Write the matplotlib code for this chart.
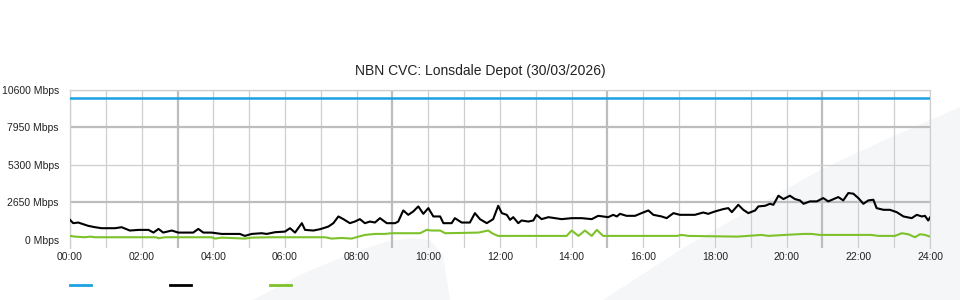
import matplotlib
matplotlib.use('Agg')
import matplotlib.pyplot as plt
from matplotlib.lines import Line2D
from matplotlib.patches import Polygon

plt.rcParams['font.family'] = ['Liberation Sans', 'DejaVu Sans']

title = 'NBN CVC: Lonsdale Depot (30/03/2026)'

# capacity line (Mbps)
cap_hours = [0, 24]
cap_vals = [10000, 10000]

# total traffic (black)
tot_hours = [0.00, 0.09, 0.23, 0.37, 0.51, 0.70, 0.88, 1.07, 1.26, 1.44, 1.67, 1.91,
             2.19, 2.33, 2.47, 2.60, 2.84, 3.02, 3.21, 3.44, 3.58, 3.72, 3.95, 4.23,
             4.51, 4.74, 4.88, 5.07, 5.35, 5.49, 5.72, 6.00, 6.14, 6.28, 6.47, 6.56,
             6.79, 6.98, 7.21, 7.35, 7.49, 7.63, 7.81, 7.95, 8.09, 8.23, 8.37, 8.51,
             8.65, 8.84, 9.07, 9.16, 9.30, 9.44, 9.58, 9.72, 9.86, 10.00, 10.14, 10.33,
             10.42, 10.65, 10.74, 10.93, 11.16, 11.30, 11.44, 11.63, 11.81, 11.95,
             12.05, 12.19, 12.28, 12.37, 12.51, 12.60, 12.79, 12.93, 13.02, 13.16,
             13.35, 13.53, 13.72, 14.00, 14.28, 14.56, 14.74, 15.02, 15.16, 15.26,
             15.35, 15.53, 15.77, 15.95, 16.14, 16.28, 16.51, 16.65, 16.84, 17.02,
             17.26, 17.44, 17.67, 17.81, 18.00, 18.23, 18.37, 18.47, 18.65, 18.79,
             18.93, 19.12, 19.21, 19.40, 19.53, 19.63, 19.77, 19.91, 20.09, 20.23,
             20.37, 20.47, 20.65, 20.84, 21.02, 21.16, 21.44, 21.58, 21.72, 21.86,
             22.00, 22.14, 22.28, 22.42, 22.51, 22.70, 22.88, 23.07, 23.26, 23.49,
             23.63, 23.77, 23.86, 23.95, 24.00]
tot_vals = [1420, 1185, 1230, 1115, 995, 900, 830, 830, 830, 900, 665, 710,
            710, 520, 780, 520, 665, 520, 520, 520, 780, 520, 520, 425,
            425, 425, 285, 425, 475, 425, 545, 590, 830, 520, 1185, 710,
            665, 760, 945, 1185, 1660, 1470, 1185, 1300, 1470, 1185, 1300, 1230,
            1540, 1185, 1185, 1300, 2085, 1775, 2015, 2370, 1845, 2250, 1660, 1660,
            1185, 1185, 1540, 1230, 1230, 1895, 1470, 1185, 1470, 2415,
            1895, 1775, 1420, 1610, 1185, 1375, 1300, 1375, 1775, 1470,
            1610, 1540, 1470, 1540, 1540, 1470, 1705, 1610, 1775, 1660,
            1845, 1705, 1705, 1895, 2085, 1775, 1660, 1540, 1895, 1775,
            1775, 1775, 1940, 1845, 2015, 2180, 2250, 1965, 2485, 2130,
            1895, 2085, 2370, 2415, 2555, 2485, 3125, 2890, 3125, 2890,
            2795, 2555, 2725, 2725, 2960, 2725, 3030, 2795, 3315, 3270,
            2960, 2555, 2795, 2840, 2250, 2130, 2130, 1965, 1660, 1540,
            1775, 1660, 1705, 1375, 1585]

# second traffic series (green)
grn_hours = [0.00, 0.14, 0.42, 0.56, 0.70, 2.40, 2.47, 2.65, 3.95, 4.05, 4.23, 4.88,
             5.07, 5.63, 6.37, 7.12, 7.30, 7.58, 7.86, 8.05, 8.23, 8.51, 8.79, 8.98,
             9.63, 9.77, 9.95, 10.09, 10.33, 10.47, 11.40, 11.67, 11.81, 11.95, 13.86,
             14.00, 14.19, 14.37, 14.56, 14.70, 14.88, 16.93, 17.07, 17.26, 18.63,
             18.91, 19.30, 19.49, 19.95, 20.47, 20.70, 20.93, 22.37, 22.56, 23.02,
             23.21, 23.40, 23.58, 23.72, 23.86, 24.00]
grn_vals = [285, 235, 190, 235, 190, 190, 120, 190, 190, 95, 165, 95,
            165, 190, 190, 190, 95, 140, 95, 235, 355, 425, 425, 475,
            475, 475, 710, 665, 665, 475, 520, 665, 430, 285, 285,
            665, 285, 665, 285, 710, 285, 285, 355, 285, 235,
            285, 355, 285, 355, 425, 425, 355, 355, 285, 285,
            475, 400, 190, 400, 355, 235]

yticks = [0, 2650, 5300, 7950, 10600]
ytick_labels = ['0 Mbps', '2650 Mbps', '5300 Mbps', '7950 Mbps', '10600 Mbps']
xticks = list(range(0, 25, 2))
xtick_labels = ['%02d:00' % h for h in xticks]

blue = '#1ba1e2'
green = '#7dc22a'
bg_grey = '#f5f6f8'

fig = plt.figure(figsize=(9.6, 3.0), dpi=100)

# faint watermark shapes in the background (figure pixel coords)
W, H = 960.0, 300.0
hump = [(253, 300), (300, 275), (350, 254), (385, 242), (410, 238), (430, 240),
        (443, 255), (450, 300)]
wedge = [(603, 300), (680, 250), (820, 170), (885, 140), (960, 107), (960, 300)]
for pts in (hump, wedge):
    fig.patches.append(Polygon([(x / W, 1 - y / H) for x, y in pts], closed=True,
                               transform=fig.transFigure, facecolor=bg_grey,
                               edgecolor='none', zorder=-5))

ax = fig.add_axes([70 / W, 1 - 248 / H, 860 / W, 158 / H])
ax.set_facecolor('none')
ax.set_zorder(2)

# grid
for h in range(0, 25):
    heavy = h % 6 == 3
    ax.axvline(h, color='#bdbdbd' if heavy else '#cfcfcf', lw=1.6 if heavy else 0.9, zorder=1)
for v in yticks[1:]:
    heavy = v in (2650, 7950)
    ax.axhline(v, color='#bdbdbd' if heavy else '#cfcfcf', lw=1.6 if heavy else 0.9, zorder=1)

ax.plot(cap_hours, cap_vals, color=blue, lw=1.8, zorder=3)
ax.plot(tot_hours, tot_vals, color='black', lw=1.5, zorder=4)
ax.plot(grn_hours, grn_vals, color=green, lw=1.5, zorder=3)

ax.set_xlim(0, 24)
ax.set_ylim(-570, 10600)
ax.set_xticks(xticks)
ax.set_xticklabels(xtick_labels)
ax.set_yticks(yticks)
ax.set_yticklabels(ytick_labels)
ax.tick_params(length=0, labelsize=7.5, colors='#222222')
ax.tick_params(axis='x', pad=3)
ax.tick_params(axis='y', pad=8)
for s in ('left', 'right', 'top'):
    ax.spines[s].set_color('#cfcfcf')
    ax.spines[s].set_linewidth(0.9)
ax.spines['bottom'].set_visible(False)

fig.text(0.5, 1 - 71 / H, title, ha='center', va='center', fontsize=10, color='#222222')

# legend swatches (no text in the original)
for x0, c in ((70, blue), (170, 'black'), (270, green)):
    fig.add_artist(Line2D([x0 / W, (x0 + 21) / W], [1 - 285 / H, 1 - 285 / H],
                          transform=fig.transFigure, color=c, lw=2))

fig.savefig('out.png', dpi=100)
